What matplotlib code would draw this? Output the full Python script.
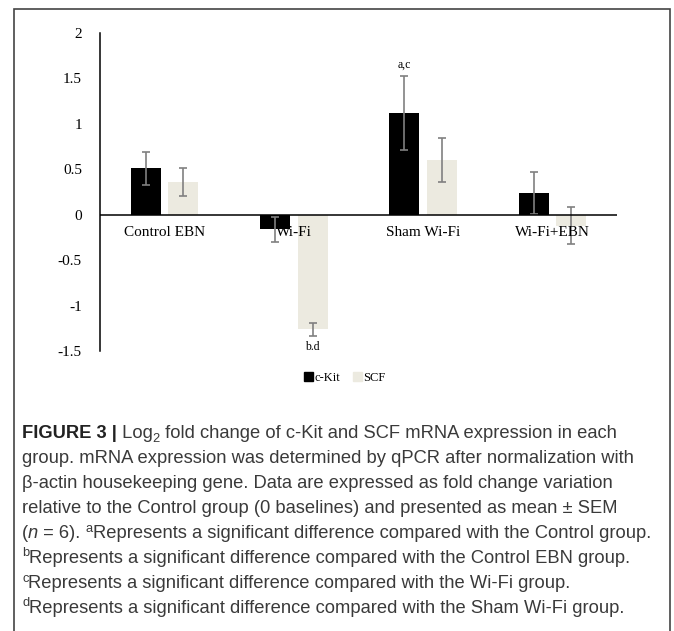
import matplotlib
matplotlib.use("Agg")
import matplotlib.pyplot as plt
from matplotlib.patches import Rectangle, Patch
import numpy as np

categories = ["Control EBN", "Wi-Fi", "Sham Wi-Fi", "Wi-Fi+EBN"]
ckit = [0.51, -0.16, 1.12, 0.24]
ckit_err = [0.18, 0.14, 0.41, 0.23]
scf = [0.36, -1.26, 0.60, -0.12]
scf_err = [0.15, 0.07, 0.24, 0.20]
yticks = [-1.5, -1, -0.5, 0, 0.5, 1, 1.5, 2]
ytick_labels = ["-1.5", "-1", "-0.5", "0", "0.5", "1", "1.5", "2"]
annotations = [("a,c", 2, "ckit"), ("b.d", 1, "scf")]

W, H = 674, 631
fig = plt.figure(figsize=(W / 100, H / 100), dpi=100)
serif = "Liberation Serif"
sans = "Liberation Sans"

# outer frame
fig.patches.append(Rectangle((14 / W, -0.01), (670 - 14) / W, 1.01 - 9 / H,
                             transform=fig.transFigure, fill=False,
                             edgecolor="#444444", linewidth=1.2))

ax = fig.add_axes([100 / W, 1 - 351 / H, 517 / W, (351 - 33) / H])
x = np.arange(len(categories))
bw = 0.232
off = 0.145
ax.bar(x - off, ckit, bw, color="black", zorder=2)
ax.bar(x + off, scf, bw, color="#ECEAE0", zorder=2)
ekw = dict(fmt="none", ecolor="#808080", elinewidth=1.2, capsize=3, capthick=1.2, zorder=3)
ax.errorbar(x - off, ckit, yerr=ckit_err, **ekw)
ax.errorbar(x + off, scf, yerr=scf_err, **ekw)
ax.axhline(0, color="black", linewidth=1.1, zorder=4)

ax.set_xlim(-0.5, len(categories) - 0.5)
ax.set_ylim(-1.5, 2)
ax.set_yticks(yticks)
ax.set_yticklabels(ytick_labels, fontfamily=serif, fontsize=11)
ax.tick_params(axis="y", length=0, pad=13)
ax.set_xticks([])
for s in ["top", "right", "bottom"]:
    ax.spines[s].set_visible(False)
ax.spines["left"].set_linewidth(1.1)

for i, c in enumerate(categories):
    ax.text(i, -0.2, c, ha="center", va="center", fontfamily=serif, fontsize=11, zorder=5)

for txt, i, ser in annotations:
    if ser == "ckit":
        xx = i - off
        yy = ckit[i] + ckit_err[i] + 0.06
        ax.text(xx, yy, txt, ha="center", va="bottom", fontfamily=serif, fontsize=8.5)
    else:
        xx = i + off
        yy = scf[i] - scf_err[i] - 0.06
        ax.text(xx, yy, txt, ha="center", va="top", fontfamily=serif, fontsize=8.5)

fig.legend(handles=[Patch(color="black", label="c-Kit"), Patch(color="#ECEAE0", label="SCF")],
           loc="center", bbox_to_anchor=(345 / W, 1 - 378 / H), ncol=2, frameon=False,
           prop={"family": serif, "size": 9}, handlelength=0.7, handleheight=0.7,
           handletextpad=0.15, columnspacing=1.0)

# caption
renderer = fig.canvas.get_renderer()
cap_color = "#3a3a3a"
fs = 13.2

def draw_line(segments, y_px, x_px=22):
    xcur = x_px
    for seg in segments:
        text, style = seg
        kw = dict(fontfamily=sans, fontsize=fs, color=cap_color, va="baseline", ha="left")
        dy = 0
        if style == "bold":
            kw["fontweight"] = "bold"
            kw["color"] = "#222222"
        elif style == "italic":
            kw["fontstyle"] = "italic"
        elif style == "sup":
            kw["fontsize"] = fs * 0.7
            dy = -6.5
        elif style == "sub":
            kw["fontsize"] = fs * 0.7
            dy = 4
        t = fig.text(xcur / W, 1 - (y_px + dy) / H, text, **kw)
        bb = t.get_window_extent(renderer=renderer)
        xcur += bb.width

lines = [
    [("FIGURE 3 |", "bold"), (" Log", ""), ("2", "sub"), (" fold change of c-Kit and SCF mRNA expression in each", "")],
    [("group. mRNA expression was determined by qPCR after normalization with", "")],
    [("\u03b2-actin housekeeping gene. Data are expressed as fold change variation", "")],
    [("relative to the Control group (0 baselines) and presented as mean \u00b1 SEM", "")],
    [("(", ""), ("n", "italic"), (" = 6). ", ""), ("a", "sup"), ("Represents a significant difference compared with the Control group.", "")],
    [("b", "sup"), ("Represents a significant difference compared with the Control EBN group.", "")],
    [("c", "sup"), ("Represents a significant difference compared with the Wi-Fi group.", "")],
    [("d", "sup"), ("Represents a significant difference compared with the Sham Wi-Fi group.", "")],
]
y0 = 438
sp = 25
for k, ln in enumerate(lines):
    draw_line(ln, y0 + k * sp)

fig.savefig("out.png", dpi=100)
